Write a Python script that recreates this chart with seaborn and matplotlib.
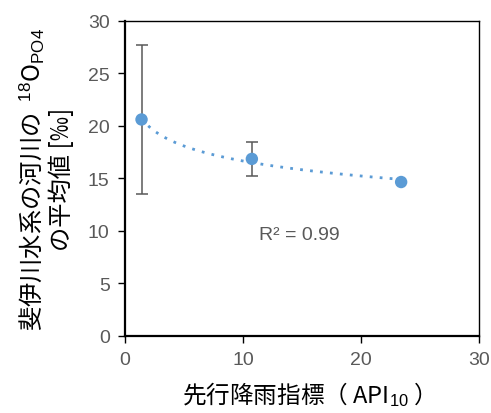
"""
d18O-PO4 vs antecedent precipitation index
"""

import matplotlib
matplotlib.use('AGG')
import matplotlib.pyplot as plt
import numpy as np
import pandas as pd
import seaborn as sns

# values
api10 = [1.4, 10.75, 23.4]
d18o_mean = [20.6, 16.85, 14.65]
d18o_err = [7.05, 1.6, 0.0]
r2_label = 'R² = 0.99'

sns.set_theme(style='ticks')
plt.rcParams['font.family'] = ['Liberation Sans', 'Noto Sans CJK JP', 'DejaVu Sans']
plt.rcParams['mathtext.fontset'] = 'custom'
plt.rcParams['mathtext.rm'] = 'Liberation Sans'
plt.rcParams['mathtext.it'] = 'Liberation Sans'

data = pd.DataFrame({'api': api10, 'mean': d18o_mean, 'err': d18o_err})

fig, ax = plt.subplots(figsize=(4.91, 4.14), dpi=100)
fig.subplots_adjust(left=0.2546, right=0.9756, top=0.9476, bottom=0.186)

blue = '#5B9BD5'
grey = '#595959'

# logarithmic trend line (like the spreadsheet one)
b, a = np.polyfit(np.log(data['api']), data['mean'], 1)
xs = np.linspace(data['api'].min(), data['api'].max(), 100)
trend = pd.DataFrame({'x': xs, 'y': a + b * np.log(xs)})
sns.lineplot(data=trend, x='x', y='y', ax=ax, color=blue, linestyle=(0, (1, 2.6)),
             linewidth=2.0, zorder=2)

ax.errorbar(data['api'], data['mean'], yerr=data['err'], fmt='none', ecolor=grey,
            elinewidth=1.1, capsize=4, capthick=1.1, zorder=3)
sns.scatterplot(data=data, x='api', y='mean', ax=ax, color=blue, s=80,
                edgecolor='none', zorder=4)

ax.text(14.8, 9.7, r2_label, fontsize=14, color=grey, ha='center', va='center')

ax.set_xlim(0, 30)
ax.set_ylim(0, 30)
ax.set_xticks([0, 10, 20, 30])
ax.set_yticks([0, 5, 10, 15, 20, 25, 30])
ax.tick_params(axis='both', direction='out', length=5, width=1, color='black',
               labelsize=14, labelcolor=grey, pad=6)
for side in ['top', 'right', 'left', 'bottom']:
    ax.spines[side].set_visible(True)
    ax.spines[side].set_color('black')
ax.spines['top'].set_linewidth(1.0)
ax.spines['right'].set_linewidth(1.0)
ax.spines['left'].set_linewidth(1.6)
ax.spines['bottom'].set_linewidth(1.6)

ax.set_xlabel('先行降雨指標（ API$_{10}$ ）', fontsize=17, color='black', labelpad=8,
              family=['Noto Sans CJK JP', 'DejaVu Sans'])
ax.set_ylabel('斐伊川水系の河川の  $^{18}$O$_{PO4}$\nの平均値 [‰]', fontsize=17.5,
              color='black', labelpad=9, linespacing=1.1,
              family=['Noto Sans CJK JP', 'DejaVu Sans'])

fig.savefig('out.png', dpi=100)
plt.close()
